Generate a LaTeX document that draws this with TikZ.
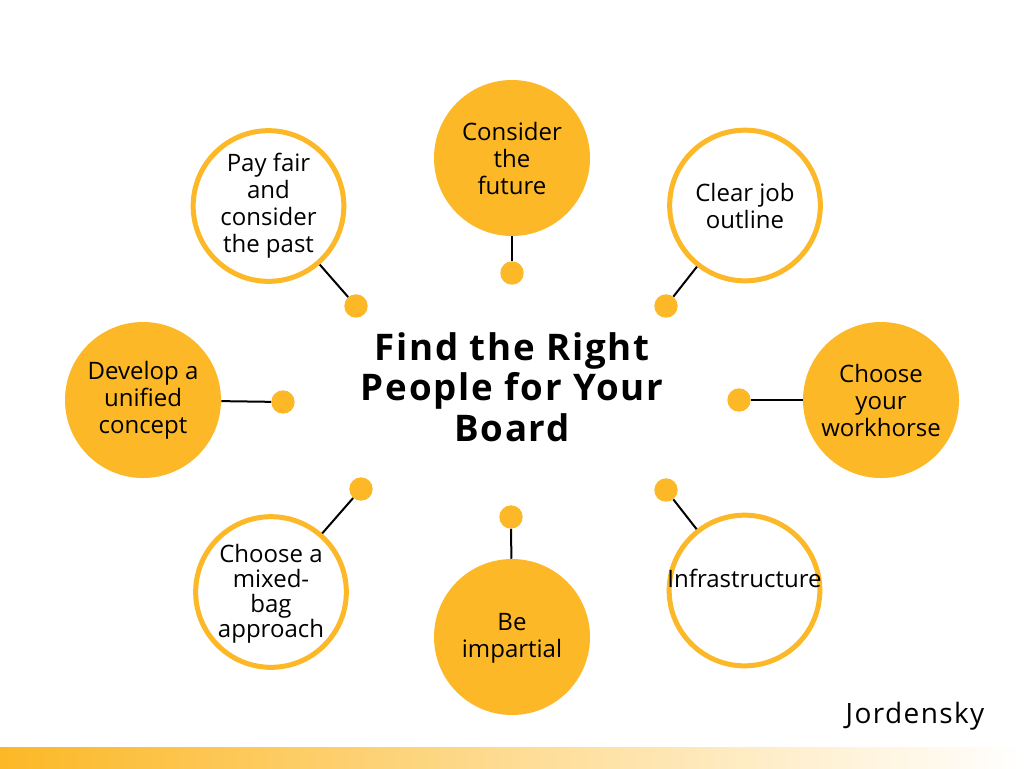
\documentclass[tikz,border=0pt]{standalone}
\usepackage{fontspec}
\setmainfont{Open Sans}
\newfontfamily\titlefont[LetterSpace=5]{Open Sans}
\newfontfamily\brandfont[LetterSpace=5]{Open Sans}
\definecolor{gold}{RGB}{252,184,38}
\begin{document}
\begin{tikzpicture}[x=0.75pt,y=-0.75pt,
  filledc/.style={circle,fill=gold,draw=none,minimum size=117pt,inner sep=0pt},
  ringc/.style={circle,fill=white,draw=gold,line width=3.75pt,minimum size=113pt,inner sep=0pt},
  dotc/.style={circle,fill=gold,draw=none,minimum size=17.5pt,inner sep=0pt},
  lbl/.style={align=center,font=\fontsize{18}{20.25}\selectfont,text=black,inner sep=0pt},
  conn/.style={draw=black,line width=1.5pt}]
\useasboundingbox (0,0) rectangle (1024,768);
\fill[white] (0,0) rectangle (1024,768);
% circles
\node[filledc] (c1) at (512,158) {};
\node[ringc]   (c2) at (745,205.5) {};
\node[filledc] (c3) at (881,400) {};
\node[ringc]   (c4) at (744.5,590.5) {};
\node[filledc] (c5) at (512,637) {};
\node[ringc]   (c6) at (271,592) {};
\node[filledc] (c7) at (143,400) {};
\node[ringc]   (c8) at (268.5,206) {};
% dots
\node[dotc] (d1) at (512,273) {};
\node[dotc] (d2) at (666,306) {};
\node[dotc] (d3) at (739,400) {};
\node[dotc] (d4) at (666,490) {};
\node[dotc] (d5) at (511,517) {};
\node[dotc] (d6) at (361,489) {};
\node[dotc] (d7) at (283,402) {};
\node[dotc] (d8) at (356,306) {};
% connectors
\foreach \i in {1,...,8} {\draw[conn] (c\i) -- (d\i);}
% labels
\node[lbl] at (c1) {Consider\\the\\future};
\node[lbl] at (c2) {Clear job\\outline};
\node[lbl] at (c3) {Choose\\your\\workhorse};
\node[lbl] at ([yshift=9]c4) {Infrastructure};
\node[lbl] at ([yshift=-1]c5) {Be\\impartial};
\node[lbl,font=\fontsize{18}{18.75}\selectfont] at ([yshift=-1]c6) {Choose a\\mixed-\\bag\\approach};
\node[lbl] at (c7) {Develop a\\unified\\concept};
\node[lbl] at (c8) {Pay fair\\and\\consider\\the past};
% title
\node[align=center,font=\titlefont\bfseries\fontsize{27.5}{30.5}\selectfont] (title) at (512,387) {Find the Right\\People for Your\\Board};
% brand
\node[font=\brandfont\fontsize{21}{25}\selectfont] (brand) at (915,716) {Jordensky};
% bottom bar
\shade[left color=gold,right color=white] (0,747) rectangle (1024,768);
\end{tikzpicture}
\end{document}
